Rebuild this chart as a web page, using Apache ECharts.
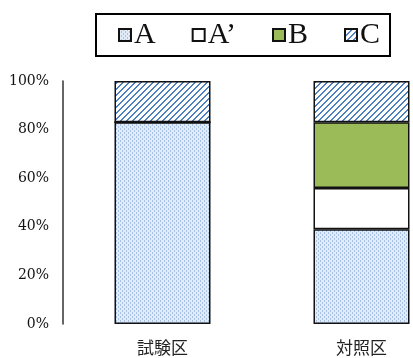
<!DOCTYPE html>
<html>
<head>
<meta charset="utf-8">
<script src="https://cdn.jsdelivr.net/npm/echarts@6/dist/echarts.min.js"></script>
<style>
  html, body { margin: 0; padding: 0; background: #fff; }
  #chart { width: 413px; height: 358px; }
</style>
</head>
<body>
<div id="chart"></div>
<script>
// categories + stacked shares (%)
const categories = ['試験区', '対照区'];
const seriesNames = ['A', 'A’', 'B', 'C'];
const valA = [83, 39];
const valA2 = [0, 17];
const valB = [0, 27];
const valC = [17, 17];

// 点々の模様 (A)
function dotPattern() {
  const c = document.createElement('canvas');
  c.width = 4; c.height = 4;
  const ctx = c.getContext('2d');
  ctx.fillStyle = '#e2ecf8';
  ctx.fillRect(0, 0, 4, 4);
  ctx.fillStyle = '#a8c2e6';
  ctx.fillRect(0, 0, 1, 2);
  ctx.fillRect(2, 2, 1, 2);
  return c;
}
// 斜線の模様 (C)
function hatchPattern() {
  const c = document.createElement('canvas');
  c.width = 6; c.height = 6;
  const ctx = c.getContext('2d');
  ctx.fillStyle = '#ffffff';
  ctx.fillRect(0, 0, 6, 6);
  ctx.fillStyle = '#4d7fbf';
  for (let x = 0; x < 6; x++) {
    for (let y = 0; y < 6; y++) {
      if ((x + y) % 6 < 2) ctx.fillRect(x, y, 1, 1);
    }
  }
  return c;
}

const fills = [
  { image: dotPattern(), repeat: 'repeat' },
  '#ffffff',
  '#9bbb59',
  { image: hatchPattern(), repeat: 'repeat' }
];
const values = [valA, valA2, valB, valC];

const chart = echarts.init(document.getElementById('chart'));
chart.setOption({
  animation: false,
  legend: {
    data: seriesNames,
    left: 96,
    top: 14,
    width: 314,
    height: 41,
    padding: [6, 10, 6, 22],
    borderColor: '#000',
    borderWidth: 2,
    itemGap: 36,
    itemWidth: 12,
    itemHeight: 12,
    icon: 'rect',
    textStyle: { fontFamily: 'Liberation Serif', fontSize: 30, color: '#111', padding: [0, 0, 0, -2] }
  },
  grid: { left: 63, top: 81, bottom: 34, width: 398, outerBoundsMode: 'none', containLabel: false },
  xAxis: {
    type: 'category',
    data: categories,
    axisLine: { show: false },
    axisTick: { show: false },
    axisLabel: { margin: 15, fontFamily: 'Noto Sans CJK JP', fontSize: 17, color: '#222' }
  },
  yAxis: {
    type: 'value',
    min: 0,
    max: 100,
    interval: 20,
    axisLine: { show: true, lineStyle: { color: '#333', width: 1.5 } },
    axisTick: { show: false },
    splitLine: { show: false },
    axisLabel: { formatter: '{value}%', margin: 14, fontFamily: 'DejaVu Serif', fontSize: 14, color: '#111' }
  },
  series: seriesNames.map((name, i) => ({
    name: name,
    type: 'bar',
    stack: 'total',
    barWidth: 96,
    data: values[i],
    itemStyle: { color: fills[i], borderColor: '#111', borderWidth: 1.5 }
  }))
});
</script>
</body>
</html>
